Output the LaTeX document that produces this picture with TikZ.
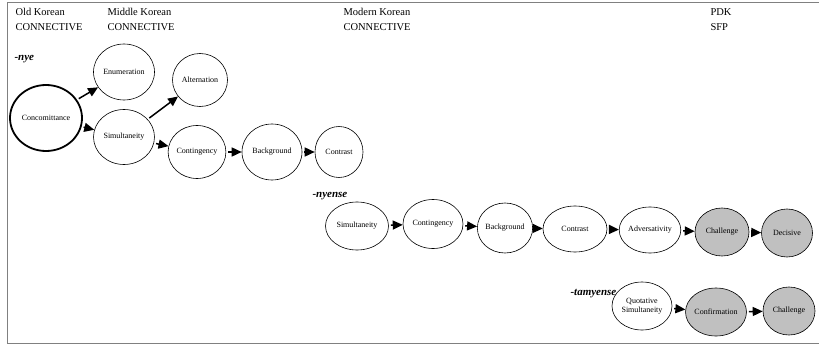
\documentclass[tikz,border=0pt]{standalone}
\usepackage{fontspec}
\setmainfont{Liberation Serif}
\usetikzlibrary{shapes.geometric,arrows.meta}
\definecolor{sfpgray}{RGB}{192,192,192}
\definecolor{framegray}{RGB}{128,128,128}
\tikzset{
  stage/.style={ellipse, draw, line width=0.6pt, inner sep=0pt, align=center,
    font=\fontsize{8}{9}\selectfont},
  sfp/.style={stage, fill=sfpgray},
  era/.style={anchor=base west, font=\fontsize{10.5}{12}\selectfont},
  form/.style={anchor=base west, font=\fontsize{11}{12}\selectfont\bfseries\itshape},
  link/.style={-{Triangle[length=10pt,width=9pt]}, line width=1.5pt, shorten <=2pt},
}
\begin{document}
\begin{tikzpicture}[x=1pt,y=-1pt]
\useasboundingbox (0,0) rectangle (819,345);
% frame
\draw[framegray, line width=1pt] (819,3) -- (7,3) -- (7,343) -- (819,343);

% period headers
\node[era] (ok) at (12,16) {Old Korean};
\node[era] (okc) at (12,31) {CONNECTIVE};
\node[era] (mk) at (104,16) {Middle Korean};
\node[era] (mkc) at (104,31) {CONNECTIVE};
\node[era] (mdk) at (340,16) {Modern Korean};
\node[era] (mdkc) at (340,31) {CONNECTIVE};
\node[era] (pdk) at (707,16) {PDK};
\node[era] (pdkc) at (707,31) {SFP};

% forms
\node[form] (nye) at (11,61) {-nye};
\node[form] (nyense) at (309,197) {-nyense};
\node[form] (tamyense) at (567,295) {-tamyense};

% -nye
\node[stage, line width=1.8pt, minimum width=72pt, minimum height=66pt] (conc) at (46,118) {Concomittance};
\node[stage, minimum width=61pt, minimum height=56pt] (enum) at (124,72) {Enumeration};
\node[stage, minimum width=55pt, minimum height=53pt] (alt) at (200,80) {Alternation};
\node[stage, minimum width=61pt, minimum height=55pt] (sim) at (124,137) {Simultaneity};
\node[stage, minimum width=52pt, minimum height=53pt] (cont) at (197,152) {Contingency};
\node[stage, minimum width=60pt, minimum height=56pt] (back) at (272,152) {Background};
\node[stage, minimum width=48pt, minimum height=51pt] (contr) at (339,152) {Contrast};

\draw[link] (conc) -- (enum);
\draw[link] (conc) -- (sim);
\draw[link] (sim) -- (alt);
\draw[link] (sim) -- (cont);
\draw[link] (cont) -- (back);
\draw[link] (back) -- (contr);

% -nyense
\node[stage, minimum width=63pt, minimum height=48pt] (simb) at (357,226) {Simultaneity};
\node[stage, minimum width=60pt, minimum height=49pt] (contb) at (433,224) {Contingency};
\node[stage, minimum width=52pt, minimum height=50pt] (backb) at (505,228) {Background};
\node[stage, minimum width=64pt, minimum height=46pt] (contrb) at (575,229) {Contrast};
\node[stage, minimum width=60pt, minimum height=46pt] (adv) at (650,230) {Adversativity};
\node[sfp, minimum width=54pt, minimum height=48pt] (chal) at (722,232) {Challenge};
\node[sfp, minimum width=51pt, minimum height=48pt] (dec) at (787,233) {Decisive};

\draw[link] (simb) -- (contb);
\draw[link] (contb) -- (backb);
\draw[link] (backb) -- (contrb);
\draw[link] (contrb) -- (adv);
\draw[link] (adv) -- (chal);
\draw[link] (chal) -- (dec);

% -tamyense
\node[stage, minimum width=60pt, minimum height=48pt] (quot) at (642,306) {Quotative\\Simultaneity};
\node[sfp, minimum width=52pt, minimum height=48pt] (conf) at (716,312) {Confirmation};
\node[sfp, minimum width=52pt, minimum height=48pt] (chalc) at (789,311) {Challenge};

\draw[link] (quot) -- (conf);
\draw[link] (conf) -- (chalc);
\end{tikzpicture}
\end{document}
